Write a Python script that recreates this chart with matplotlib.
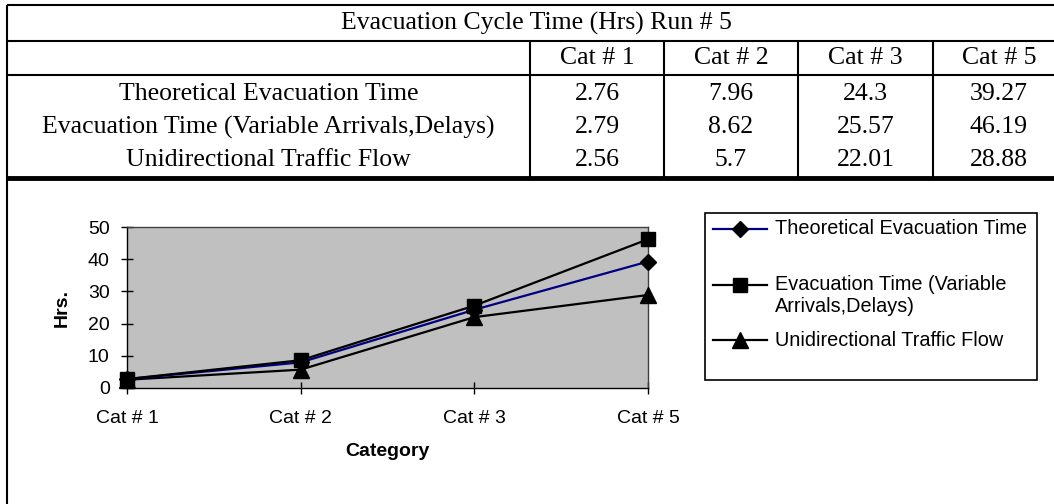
import matplotlib
matplotlib.use("Agg")
import matplotlib.pyplot as plt
from matplotlib.lines import Line2D
from matplotlib.patches import Rectangle

# data
categories = ['Cat # 1', 'Cat # 2', 'Cat # 3', 'Cat # 5']
series_names = ['Theoretical Evacuation Time',
                'Evacuation Time (Variable Arrivals,Delays)',
                'Unidirectional Traffic Flow']
theoretical = [2.76, 7.96, 24.3, 39.27]
variable_arrivals = [2.79, 8.62, 25.57, 46.19]
unidirectional = [2.56, 5.7, 22.01, 28.88]
table_title = 'Evacuation Cycle Time (Hrs) Run # 5'
y_ticks = [0, 10, 20, 30, 40, 50]

W, H = 1054, 504
fig = plt.figure(figsize=(W / 100, H / 100), dpi=100)

# overlay in pixel coords for the table and the frame
ov = fig.add_axes([0, 0, 1, 1])
ov.set_xlim(0, W)
ov.set_ylim(H, 0)
ov.set_axis_off()

serif = 'Liberation Serif'
sans = 'Liberation Sans'

def hline(y, x0=7, x1=W, lw=1.5):
    ov.plot([x0, x1], [y, y], color='black', lw=lw, solid_capstyle='butt', clip_on=False)

def vline(x, y0, y1, lw=1.5):
    ov.plot([x, x], [y0, y1], color='black', lw=lw, solid_capstyle='butt', clip_on=False)

# table grid
col_edges = [7, 530, 664, 798, 933, 1065]
hline(5)
hline(41)
hline(75)
hline(178, lw=3.5)
vline(7, 5, H)
for x in col_edges[1:-1]:
    vline(x, 41, 178)

ov.text((col_edges[0] + col_edges[-1]) / 2, 23, table_title, family=serif,
        fontsize=18.5, ha='center', va='center')
for i, c in enumerate(categories):
    cx = (col_edges[i + 1] + col_edges[i + 2]) / 2
    ov.text(cx, 58, c, family=serif, fontsize=18.5, ha='center', va='center')

rows = [theoretical, variable_arrivals, unidirectional]
row_y = [94, 127, 160]
for name, vals, ry in zip(series_names, rows, row_y):
    ov.text((col_edges[0] + col_edges[1]) / 2, ry, name, family=serif,
            fontsize=18.5, ha='center', va='center')
    for i, v in enumerate(vals):
        cx = (col_edges[i + 1] + col_edges[i + 2]) / 2
        ov.text(cx, ry, str(v), family=serif, fontsize=18.5, ha='center', va='center')

# chart
left, right, top, bottom = 127, 648, 227, 388
ax = fig.add_axes([left / W, 1 - bottom / H, (right - left) / W, (bottom - top) / H])
ax.set_facecolor('#c0c0c0')
x = range(len(categories))

ax.plot(x, unidirectional, color='black', lw=1.6, marker='^', ms=11,
        markerfacecolor='black', markeredgecolor='black', zorder=3, clip_on=False)
ax.plot(x, theoretical, color='#000080', lw=1.6, marker='D', ms=8.5,
        markerfacecolor='black', markeredgecolor='black', zorder=4, clip_on=False)
ax.plot(x, variable_arrivals, color='black', lw=1.6, marker='s', ms=10.5,
        markerfacecolor='black', markeredgecolor='black', zorder=5, clip_on=False)

ax.set_xlim(0, len(categories) - 1)
ax.set_ylim(0, 50)
ax.set_xticks(list(x))
ax.set_xticklabels(categories, family=sans, fontsize=14)
ax.set_yticks(y_ticks)
ax.set_yticklabels([str(t) for t in y_ticks], family=sans, fontsize=14)
ax.tick_params(direction='inout', length=9, width=1, color='black')
ax.tick_params(axis='x', pad=11)
ax.tick_params(axis='y', pad=8)
for s in ['top', 'right']:
    ax.spines[s].set_color('#404040')
    ax.spines[s].set_linewidth(1)
for s in ['left', 'bottom']:
    ax.spines[s].set_color('black')
    ax.spines[s].set_linewidth(1)

ax.set_xlabel('Category', family=sans, fontsize=14, fontweight='bold', labelpad=12)
ax.set_ylabel('Hrs.', family=sans, fontsize=14, fontweight='bold', labelpad=12)

# legend box drawn in pixel coords
ov.add_patch(Rectangle((705, 213), 1037 - 705, 380 - 213, fill=False,
                       edgecolor='black', lw=1.2))
leg_styles = [('#000080', 'D', 8.5), ('black', 's', 10.5), ('black', '^', 11)]
leg_y = [229, 285, 340]
leg_lines = [['Theoretical Evacuation Time'],
             ['Evacuation Time (Variable', 'Arrivals,Delays)'],
             ['Unidirectional Traffic Flow']]
for (col, mk, ms), ly, lines in zip(leg_styles, leg_y, leg_lines):
    ov.add_line(Line2D([713, 767], [ly, ly], color=col, lw=1.6))
    ov.add_line(Line2D([740], [ly], marker=mk, ms=ms, color='black'))
    for k, txt in enumerate(lines):
        ov.text(775, ly + 21 * k, txt, family=sans, fontsize=14.3,
                ha='left', va='center')

fig.savefig('out.png', dpi=100)
